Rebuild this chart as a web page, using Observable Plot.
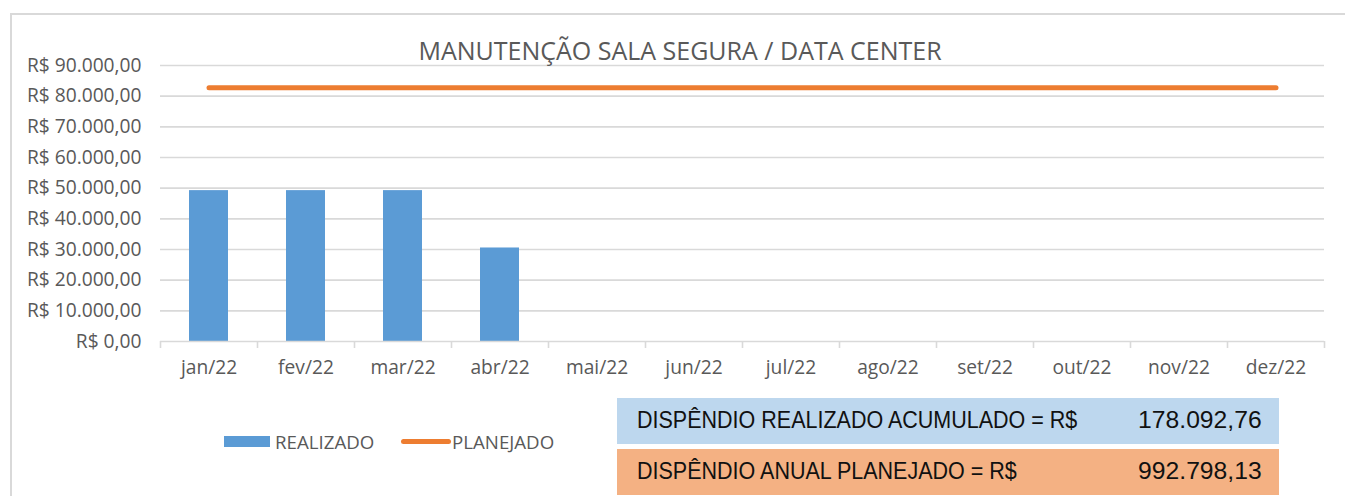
<!DOCTYPE html>
<html>
<head>
<meta charset="utf-8">
<script src="https://cdn.jsdelivr.net/npm/d3@7"></script>
<script src="https://cdn.jsdelivr.net/npm/@observablehq/plot@0.6"></script>
<style>
  html, body { margin: 0; padding: 0; background: #fff; }
  #wrap { position: relative; width: 1345px; height: 496px; overflow: hidden; font-family: "Open Sans", sans-serif; }
  #frame { position: absolute; left: 10px; top: 13px; width: 1400px; height: 600px; border-top: 2px solid #d9d9d9; border-left: 2px solid #d9d9d9; }
  #title { position: absolute; left: 0; width: 1360px; top: 33px; text-align: center; font-size: 25px; color: #595959; }
  #chart { position: absolute; left: 0; top: 0; }
  .leg { position: absolute; top: 429px; font-size: 18.7px; color: #595959; }
  .box { position: absolute; left: 617px; width: 662px; height: 46px; font-family: "Liberation Sans", Arial, sans-serif; font-size: 23.5px; color: #111; }
  .box .l { position: absolute; left: 20px; top: 9px; transform: scaleX(0.915); transform-origin: left center; white-space: nowrap; }
  .box .r { position: absolute; right: 17px; top: 9px; transform: scaleX(1.05); transform-origin: right center; white-space: nowrap; }
</style>
</head>
<body>
<div id="wrap">
  <div id="frame"></div>
  <div id="chart"></div>
  <div id="title"></div>
  <div id="legend"></div>
  <div id="boxes"></div>
</div>
<script>
const title = "MANUTENÇÃO SALA SEGURA / DATA CENTER";
const months = ["jan/22","fev/22","mar/22","abr/22","mai/22","jun/22","jul/22","ago/22","set/22","out/22","nov/22","dez/22"];
const realizado = [49200, 49200, 49200, 30492.76, null, null, null, null, null, null, null, null];
const planejado = [82733.18, 82733.18, 82733.18, 82733.18, 82733.18, 82733.18, 82733.18, 82733.18, 82733.18, 82733.18, 82733.18, 82733.18];
const yTicks = [0, 10000, 20000, 30000, 40000, 50000, 60000, 70000, 80000, 90000];
const seriesNames = ["REALIZADO", "PLANEJADO"];
const summaryLabels = ["DISPÊNDIO REALIZADO ACUMULADO = R$", "DISPÊNDIO ANUAL PLANEJADO = R$"];
const summaryValues = ["178.092,76", "992.798,13"];

const blue = "#5B9BD5", orange = "#ED7D31";
const locale = d3.formatLocale({decimal: ",", thousands: ".", grouping: [3], currency: ["R$ ", ""]});
const fmt = locale.format("$,.2f");

const rows = months.map((m, i) => ({month: m, real: realizado[i], plan: planejado[i]}));
const W = 1345, H = 400, ml = 160, mr = 21, mt = 65, mb = 59;
const bw = (W - ml - mr) / months.length;

const chart = Plot.plot({
  width: W, height: H,
  marginLeft: ml, marginRight: mr, marginTop: mt, marginBottom: mb,
  style: {fontFamily: "Open Sans, sans-serif", fontSize: "19px", color: "#595959", background: "transparent"},
  x: {domain: months, padding: 0, label: null},
  y: {domain: [0, 90000], label: null},
  marks: [
    Plot.gridY(yTicks.filter(d => d > 0), {stroke: "#d9d9d9", strokeOpacity: 1, strokeWidth: 1.6}),
    Plot.axisY(yTicks, {tickSize: 0, tickPadding: 19, tickFormat: fmt, fill: "#595959", fontSize: 19.2}),
    Plot.axisX({tickSize: 0, tickPadding: 19, fill: "#595959", fontSize: 19.2}),
    Plot.barY(rows.filter(d => d.real != null), {x: "month", y: "real", fill: blue, insetLeft: 29, insetRight: 29}),
    Plot.ruleY([0], {stroke: "#d9d9d9", strokeWidth: 1.6}),
    Plot.ruleX(months, {x: d => d, dx: -bw / 2, y1: 0, y2: 0, insetBottom: -7, stroke: "#d9d9d9", strokeWidth: 1.6}),
    Plot.ruleX(months.slice(-1), {x: d => d, dx: bw / 2, y1: 0, y2: 0, insetBottom: -7, stroke: "#d9d9d9", strokeWidth: 1.6}),
    Plot.line(rows, {x: "month", y: "plan", stroke: orange, strokeWidth: 5, strokeLinecap: "round"})
  ]
});
document.getElementById("chart").appendChild(chart);
document.getElementById("title").textContent = title;

const leg = document.getElementById("legend");
leg.innerHTML = `
  <div style="position:absolute;left:224px;top:436px;width:46px;height:11px;background:${blue}"></div>
  <div class="leg" style="left:275px">${seriesNames[0]}</div>
  <div style="position:absolute;left:401px;top:439px;width:50px;height:5px;border-radius:3px;background:${orange}"></div>
  <div class="leg" style="left:452px">${seriesNames[1]}</div>`;

const boxes = document.getElementById("boxes");
const bg = ["#BDD7EE", "#F4B183"], tops = [398, 449];
summaryLabels.forEach((t, i) => {
  const d = document.createElement("div");
  d.className = "box";
  d.style.top = tops[i] + "px";
  d.style.background = bg[i];
  d.innerHTML = `<span class="l">${t}</span><span class="r">${summaryValues[i]}</span>`;
  boxes.appendChild(d);
});
</script>
</body>
</html>
